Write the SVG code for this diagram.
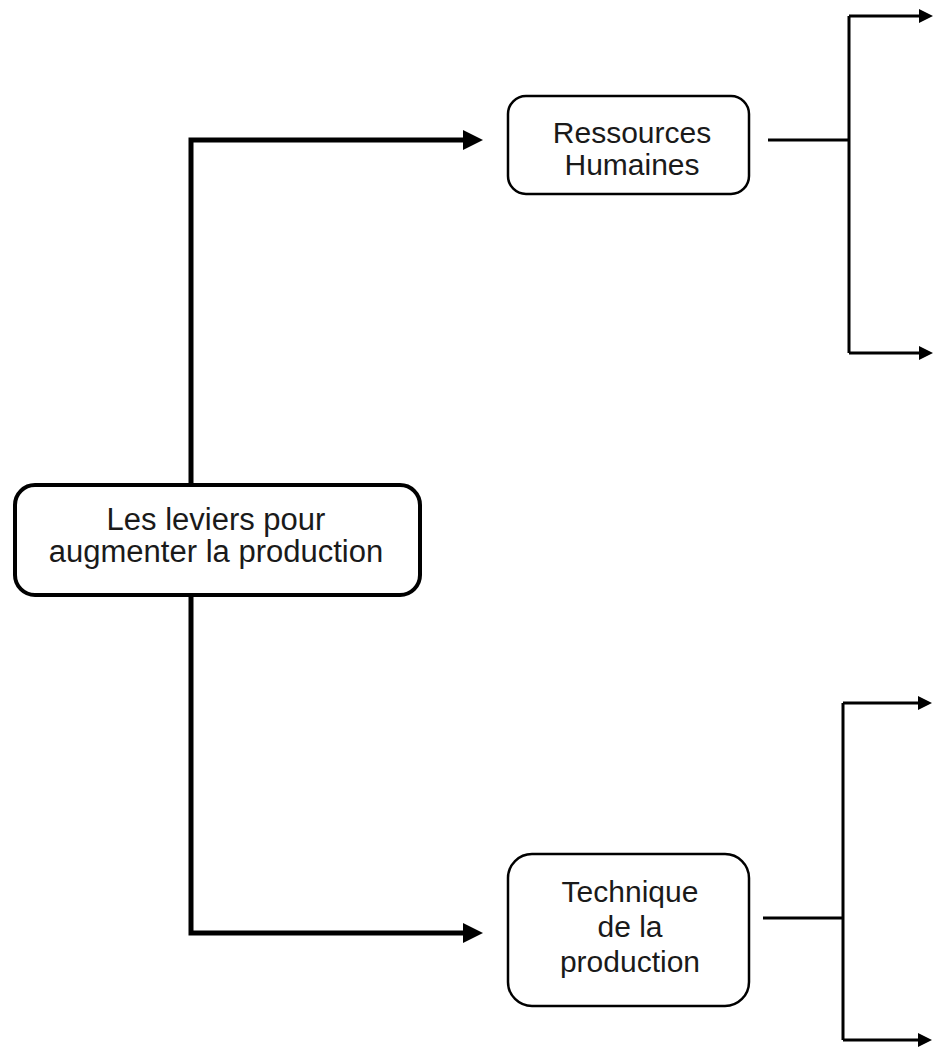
<svg xmlns="http://www.w3.org/2000/svg" width="933" height="1048" viewBox="0 0 933 1048">
<style>
.box{fill:#fff;stroke:#000}
.lbl{font-family:"Liberation Sans",Arial,sans-serif;fill:#1a1a1a;text-anchor:middle}
.thick{fill:none;stroke:#000;stroke-width:5;stroke-linejoin:miter}
.thin{fill:none;stroke:#000;stroke-width:3;stroke-linejoin:miter}
</style>
<defs>
<marker id="bigArrow" markerUnits="userSpaceOnUse" viewBox="0 0 20 20" markerWidth="20" markerHeight="20" refX="0" refY="10" orient="auto"><path d="M0,0 L20,10 L0,20 z" fill="#000"/></marker>
<marker id="smallArrow" markerUnits="userSpaceOnUse" viewBox="0 0 14 14" markerWidth="14" markerHeight="14" refX="0" refY="7" orient="auto"><path d="M0,0 L14,7 L0,14 z" fill="#000"/></marker>
</defs>
<rect width="933" height="1048" fill="#fff"/>
<g id="connectors">
<path class="thick" d="M191,483 V140 H463" marker-end="url(#bigArrow)"/>
<path class="thick" d="M191,596 V933 H463" marker-end="url(#bigArrow)"/>
<path class="thin" d="M768,140 H849"/>
<path class="thin" d="M849,16 V353"/>
<path class="thin" d="M849,16 H919" marker-end="url(#smallArrow)"/>
<path class="thin" d="M849,353 H919" marker-end="url(#smallArrow)"/>
<path class="thin" d="M763,918 H843"/>
<path class="thin" d="M843,703 V1040"/>
<path class="thin" d="M843,703 H918" marker-end="url(#smallArrow)"/>
<path class="thin" d="M843,1040 H918" marker-end="url(#smallArrow)"/>
</g>
<g id="node-main">
<rect class="box" x="15" y="485" width="405" height="110" rx="20" ry="20" stroke-width="4"/>
<text class="lbl" x="216" y="530" font-size="31">Les leviers pour</text>
<text class="lbl" x="216" y="562" font-size="31">augmenter la production</text>
</g>
<g id="node-rh">
<rect class="box" x="508" y="96" width="241" height="98" rx="18" ry="18" stroke-width="2.5"/>
<text class="lbl" x="632" y="143" font-size="30">Ressources</text>
<text class="lbl" x="632" y="175" font-size="30">Humaines</text>
</g>
<g id="node-tech">
<rect class="box" x="508" y="854" width="241" height="152" rx="24" ry="24" stroke-width="2.5"/>
<text class="lbl" x="630" y="902" font-size="30">Technique</text>
<text class="lbl" x="630" y="937" font-size="30">de la</text>
<text class="lbl" x="630" y="972" font-size="30">production</text>
</g>
</svg>
